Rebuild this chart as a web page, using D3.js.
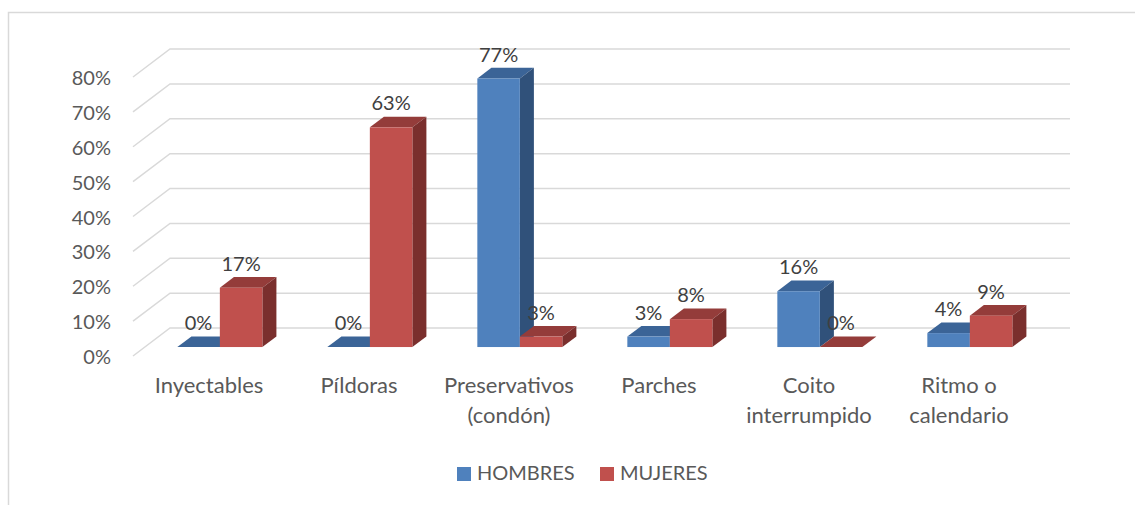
<!DOCTYPE html>
<html>
<head>
<meta charset="utf-8">
<script src="https://cdn.jsdelivr.net/npm/d3@7"></script>
<style>
  body { margin: 0; background: #fff; }
  svg text { font-family: Lato, "Open Sans", sans-serif; }
</style>
</head>
<body>
<svg id="chart" width="1135" height="505"></svg>
<script>
// values
var categories = ["Inyectables", "Píldoras", "Preservativos (condón)", "Parches", "Coito interrumpido", "Ritmo o calendario"];
var categoryLines = [["Inyectables"], ["Píldoras"], ["Preservativos", "(condón)"], ["Parches"], ["Coito", "interrumpido"], ["Ritmo o", "calendario"]];
var seriesNames = ["HOMBRES", "MUJERES"];
var hombres = [0, 0, 0.77, 0.03, 0.16, 0.04];
var mujeres = [0.17, 0.63, 0.03, 0.08, 0, 0.09];
var yTicks = [0, 0.1, 0.2, 0.3, 0.4, 0.5, 0.6, 0.7, 0.8];

var colors = {
  HOMBRES: { front: "#4f81bd", top: "#3b6497", side: "#30517a" },
  MUJERES: { front: "#c0504d", top: "#943c3a", side: "#7a2f2d" }
};

var svg = d3.select("#chart");

// chart frame
svg.append("rect")
  .attr("x", 8.5).attr("y", 12.5)
  .attr("width", 1140).attr("height", 500)
  .attr("fill", "none").attr("stroke", "#d9d9d9").attr("stroke-width", 1.5);

// 3d depth of the floor and of one bar
var depth = { dx: 37, dy: -28 };
var barFront = 0.32, barBack = 0.70;

var x0 = d3.scaleBand().domain(categories).range([133, 1033])
  .paddingInner(0.4333).paddingOuter(0.2167);
var x1 = d3.scaleBand().domain(seriesNames).range([0, x0.bandwidth()]);
var y = d3.scaleLinear().domain([0, 0.8]).range([356, 77]);

// gridlines (front edge, slant, back wall)
var grid = svg.append("g");
grid.selectAll("path").data(yTicks).enter().append("path")
  .attr("d", function(d) {
    var yf = y(d);
    return "M133," + yf + "L" + (133 + depth.dx) + "," + (yf + depth.dy) +
      "L" + (1033 + depth.dx) + "," + (yf + depth.dy);
  })
  .attr("fill", "none").attr("stroke", "#d9d9d9").attr("stroke-width", 1.5);

// y axis labels
svg.append("g").selectAll("text").data(yTicks).enter().append("text")
  .attr("x", 111).attr("y", function(d) { return y(d) + 8; })
  .attr("text-anchor", "end")
  .attr("font-size", 20).attr("fill", "#595959")
  .text(d3.format(".0%"));

// bars
var rows = [];
categories.forEach(function(c, i) {
  rows.push({ cat: c, s: "HOMBRES", v: hombres[i] });
  rows.push({ cat: c, s: "MUJERES", v: mujeres[i] });
});

function pts(arr) { return arr.map(function(p) { return p.join(","); }).join(" "); }

var bars = svg.append("g");
rows.forEach(function(d) {
  var ox = barFront * depth.dx, oy = barFront * depth.dy;
  var bx = (barBack - barFront) * depth.dx, by = (barBack - barFront) * depth.dy;
  var xl = x0(d.cat) + x1(d.s) + ox;
  var xr = xl + x1.bandwidth();
  var yb = y(0) + oy;
  var yt = y(d.v) + oy;
  var c = colors[d.s];
  var g = bars.append("g");
  g.append("polygon")
    .attr("points", pts([[xl, yt], [xr, yt], [xr + bx, yt + by], [xl + bx, yt + by]]))
    .attr("fill", c.top);
  g.append("polygon")
    .attr("points", pts([[xr, yb], [xr, yt], [xr + bx, yt + by], [xr + bx, yb + by]]))
    .attr("fill", c.side);
  g.append("rect")
    .attr("x", xl).attr("y", yt)
    .attr("width", xr - xl).attr("height", yb - yt)
    .attr("fill", c.front);
  d.lx = (xl + xr) / 2;
  d.ly = yt - 17;
});

// data labels
svg.append("g").selectAll("text").data(rows).enter().append("text")
  .attr("x", function(d) { return d.lx; })
  .attr("y", function(d) { return d.ly; })
  .attr("text-anchor", "middle")
  .attr("font-size", 20).attr("fill", "#404040")
  .text(function(d) { return d3.format(".0%")(d.v); });

// category labels
var catG = svg.append("g").selectAll("text").data(categories).enter().append("text")
  .attr("text-anchor", "middle")
  .attr("font-size", 22).attr("fill", "#595959");
catG.selectAll("tspan").data(function(d, i) { return categoryLines[i]; }).enter().append("tspan")
  .attr("x", function() { var c = d3.select(this.parentNode).datum(); return x0(c) + x0.bandwidth() / 2 + 1; })
  .attr("y", function(d, j) { return 393 + j * 30; })
  .text(function(d) { return d; });

// legend
var legendX = [457, 600];
var leg = svg.append("g").selectAll("g").data(seriesNames).enter().append("g")
  .attr("transform", function(d, i) { return "translate(" + legendX[i] + ",467)"; });
leg.append("rect").attr("width", 14).attr("height", 14)
  .attr("fill", function(d) { return colors[d].front; });
leg.append("text").attr("x", 20).attr("y", 13)
  .attr("font-size", 20).attr("fill", "#595959")
  .text(function(d) { return d; });
</script>
</body>
</html>
